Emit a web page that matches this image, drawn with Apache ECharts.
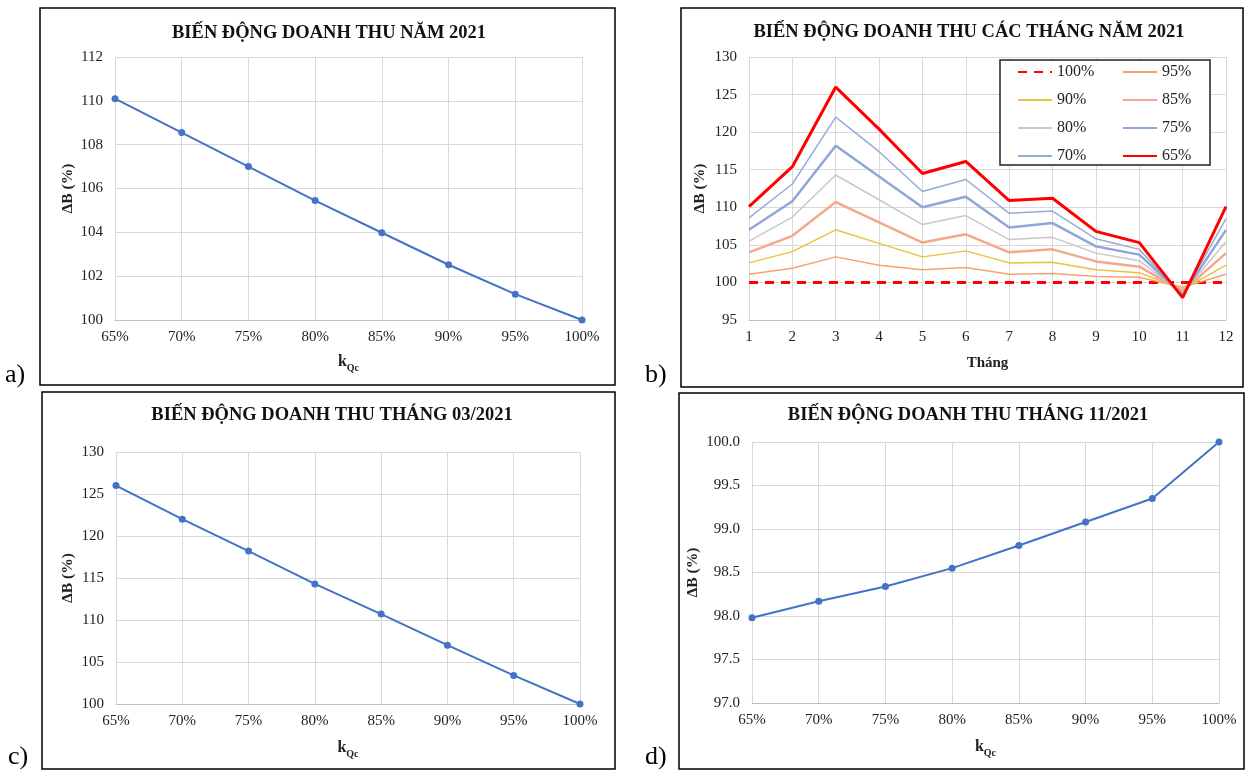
<!DOCTYPE html>
<html>
<head>
<meta charset="utf-8">
<script src="https://cdn.jsdelivr.net/npm/echarts@6/dist/echarts.min.js"></script>
<style>
html,body{margin:0;padding:0;background:#fff;}
#chart{width:1246px;height:772px;}
</style>
</head>
<body>
<div id="chart"></div>
<script>
// ---- Data ----
const kLabels = ['65%', '70%', '75%', '80%', '85%', '90%', '95%', '100%'];
const yearValues = [110.1, 108.55, 107.0, 105.45, 103.98, 102.52, 101.18, 100.0];
const marchValues = [126.0, 122.0, 118.2, 114.3, 110.7, 107.0, 103.4, 100.0];
const novValues = [97.98, 98.17, 98.34, 98.55, 98.81, 99.08, 99.35, 100.0];

const months = ['1', '2', '3', '4', '5', '6', '7', '8', '9', '10', '11', '12'];
const m100 = [100, 100, 100, 100, 100, 100, 100, 100, 100, 100, 100, 100];
const m95 = [101.1, 101.9, 103.4, 102.3, 101.7, 102.0, 101.1, 101.2, 100.8, 100.7, 99.35, 101.1];
const m90 = [102.6, 104.1, 107.0, 105.2, 103.4, 104.2, 102.6, 102.7, 101.7, 101.3, 99.08, 102.3];
const m85 = [104.0, 106.2, 110.7, 108.0, 105.3, 106.4, 104.0, 104.4, 102.8, 102.1, 98.81, 103.9];
const m80 = [105.5, 108.7, 114.3, 111.0, 107.7, 108.9, 105.7, 106.0, 103.9, 102.9, 98.55, 105.4];
const m75 = [107.0, 110.8, 118.2, 114.1, 110.0, 111.4, 107.3, 107.9, 104.8, 103.7, 98.34, 107.0];
const m70 = [108.6, 113.1, 122.0, 117.4, 112.1, 113.7, 109.2, 109.5, 105.8, 104.4, 98.17, 108.5];
const m65 = [110.1, 115.4, 126.0, 120.4, 114.5, 116.1, 110.9, 111.2, 106.8, 105.3, 97.98, 110.1];
const legendLeftCol = ['100%', '90%', '80%', '70%'];
const legendRightCol = ['95%', '85%', '75%', '65%'];

// ---- Styles ----
const FONT = '"Liberation Serif", "Times New Roman", serif';
const TXT = '#222';
const GRIDC = '#d9d9d9';
const BLUE = '#4472C4';

function xCat(gridIndex, data, nameTxt, nameGap) {
  return {
    type: 'category', gridIndex, data, boundaryGap: false,
    axisLine: { show: true, lineStyle: { color: '#bfbfbf', width: 1 } },
    axisTick: { show: false },
    axisLabel: { color: TXT, fontFamily: FONT, fontSize: 15, margin: 10 },
    splitLine: { show: true, lineStyle: { color: GRIDC, width: 1 } },
    name: nameTxt, nameLocation: 'middle', nameGap,
    nameTextStyle: nameTxt === 'Tháng'
      ? { color: TXT, fontFamily: FONT, fontSize: 15, fontWeight: 'bold' }
      : {
          color: TXT, fontFamily: FONT,
          rich: {
            k: { fontFamily: FONT, fontSize: 16, fontWeight: 'bold', color: TXT, padding: [0, 0, 6, 0], lineHeight: 17 },
            s: { fontFamily: FONT, fontSize: 10, fontWeight: 'bold', color: TXT, padding: [8, 0, 0, 0], lineHeight: 11 }
          }
        }
  };
}
function yVal(gridIndex, min, max, interval, decimals, nameGap) {
  return {
    type: 'value', gridIndex, min, max, interval,
    axisLine: { show: false }, axisTick: { show: false },
    axisLabel: {
      color: TXT, fontFamily: FONT, fontSize: 15, margin: 12,
      formatter: v => v.toFixed(decimals)
    },
    splitLine: { show: true, lineStyle: { color: GRIDC, width: 1 } },
    name: 'ΔB (%)', nameLocation: 'middle', nameRotate: 90, nameGap,
    nameTextStyle: { color: TXT, fontFamily: FONT, fontSize: 15.5, fontWeight: 'bold' }
  };
}
function kSeries(xi, data) {
  return {
    type: 'line', xAxisIndex: xi, yAxisIndex: xi, data,
    symbol: 'circle', symbolSize: 7,
    lineStyle: { color: BLUE, width: 2 },
    itemStyle: { color: BLUE },
    z: 3
  };
}
function mSeries(name, data, color, width, dashed) {
  return {
    type: 'line', name, xAxisIndex: 1, yAxisIndex: 1, data,
    symbol: 'none', showSymbol: false,
    lineStyle: { color, width, type: dashed ? [9, 7] : 'solid' },
    itemStyle: { color },
    z: 2
  };
}
function legendCol(left, data) {
  return {
    left, top: 64, orient: 'vertical', padding: 0,
    itemGap: 12, itemWidth: 34, itemHeight: 14,
    itemStyle: { color: 'rgba(0,0,0,0)', borderWidth: 0 },
    textStyle: { fontFamily: FONT, fontSize: 16, color: TXT, padding: [0, 0, 0, 0] },
    data, z: 10
  };
}

const titleStyle = { fontFamily: FONT, fontSize: 18.5, fontWeight: 'bold', color: '#111' };
const kName = '{k|k}{s|Qc}';

const option = {
  backgroundColor: '#fff',
  animation: false,
  title: [
    { text: 'BIẾN ĐỘNG DOANH THU NĂM 2021', left: 324, top: 19, textAlign: 'center', textStyle: titleStyle },
    { text: 'BIẾN ĐỘNG DOANH THU CÁC THÁNG NĂM 2021', left: 964, top: 18, textAlign: 'center', textStyle: titleStyle },
    { text: 'BIẾN ĐỘNG DOANH THU THÁNG 03/2021', left: 327, top: 401, textAlign: 'center', textStyle: titleStyle },
    { text: 'BIẾN ĐỘNG DOANH THU THÁNG 11/2021', left: 963, top: 401, textAlign: 'center', textStyle: titleStyle }
  ],
  grid: [
    { left: 115, top: 57, width: 467, height: 263 },
    { left: 749, top: 57, width: 477, height: 263 },
    { left: 116, top: 452, width: 464, height: 252 },
    { left: 752, top: 442, width: 467, height: 261 }
  ],
  xAxis: [
    xCat(0, kLabels, kName, 36),
    xCat(1, months, 'Tháng', 36),
    xCat(2, kLabels, kName, 38),
    xCat(3, kLabels, kName, 38)
  ],
  yAxis: [
    yVal(0, 100, 112, 2, 0, 39),
    yVal(1, 95, 130, 5, 0, 41),
    yVal(2, 100, 130, 5, 0, 40),
    yVal(3, 97, 100, 0.5, 1, 51)
  ],
  legend: [
    legendCol(1017, legendLeftCol),
    legendCol(1122, legendRightCol)
  ],
  series: [
    kSeries(0, yearValues),
    mSeries('100%', m100, '#FF0000', 3, true),
    mSeries('95%', m95, '#F4A36E', 1.5),
    mSeries('90%', m90, '#E9C23F', 1.5),
    mSeries('85%', m85, '#F4A88A', 2.5),
    mSeries('80%', m80, '#C8C8C8', 1.5),
    mSeries('75%', m75, '#8EA6DA', 2.5),
    mSeries('70%', m70, '#95ACD8', 1.5),
    mSeries('65%', m65, '#FF0000', 3),
    kSeries(2, marchValues),
    kSeries(3, novValues)
  ],
  graphic: [
    { type: 'rect', z: 5, shape: { x: 1000, y: 60, width: 210, height: 105 }, style: { fill: '#fff', stroke: '#222', lineWidth: 1.5 } },
    { type: 'rect', z: 100, shape: { x: 40, y: 8, width: 575, height: 377 }, style: { fill: null, stroke: '#000', lineWidth: 1.5 } },
    { type: 'rect', z: 100, shape: { x: 681, y: 8, width: 562, height: 379 }, style: { fill: null, stroke: '#000', lineWidth: 1.5 } },
    { type: 'rect', z: 100, shape: { x: 42, y: 392, width: 573, height: 377 }, style: { fill: null, stroke: '#000', lineWidth: 1.5 } },
    { type: 'rect', z: 100, shape: { x: 679, y: 393, width: 565, height: 376 }, style: { fill: null, stroke: '#000', lineWidth: 1.5 } },
    { type: 'text', left: 5, top: 362, style: { text: 'a)', font: '26px "Liberation Serif", serif', fill: '#000' } },
    { type: 'text', left: 645, top: 362, style: { text: 'b)', font: '26px "Liberation Serif", serif', fill: '#000' } },
    { type: 'text', left: 8, top: 744, style: { text: 'c)', font: '26px "Liberation Serif", serif', fill: '#000' } },
    { type: 'text', left: 645, top: 744, style: { text: 'd)', font: '26px "Liberation Serif", serif', fill: '#000' } }
  ]
};

const chart = echarts.init(document.getElementById('chart'), null, { renderer: 'canvas' });
chart.setOption(option);
</script>
</body>
</html>
